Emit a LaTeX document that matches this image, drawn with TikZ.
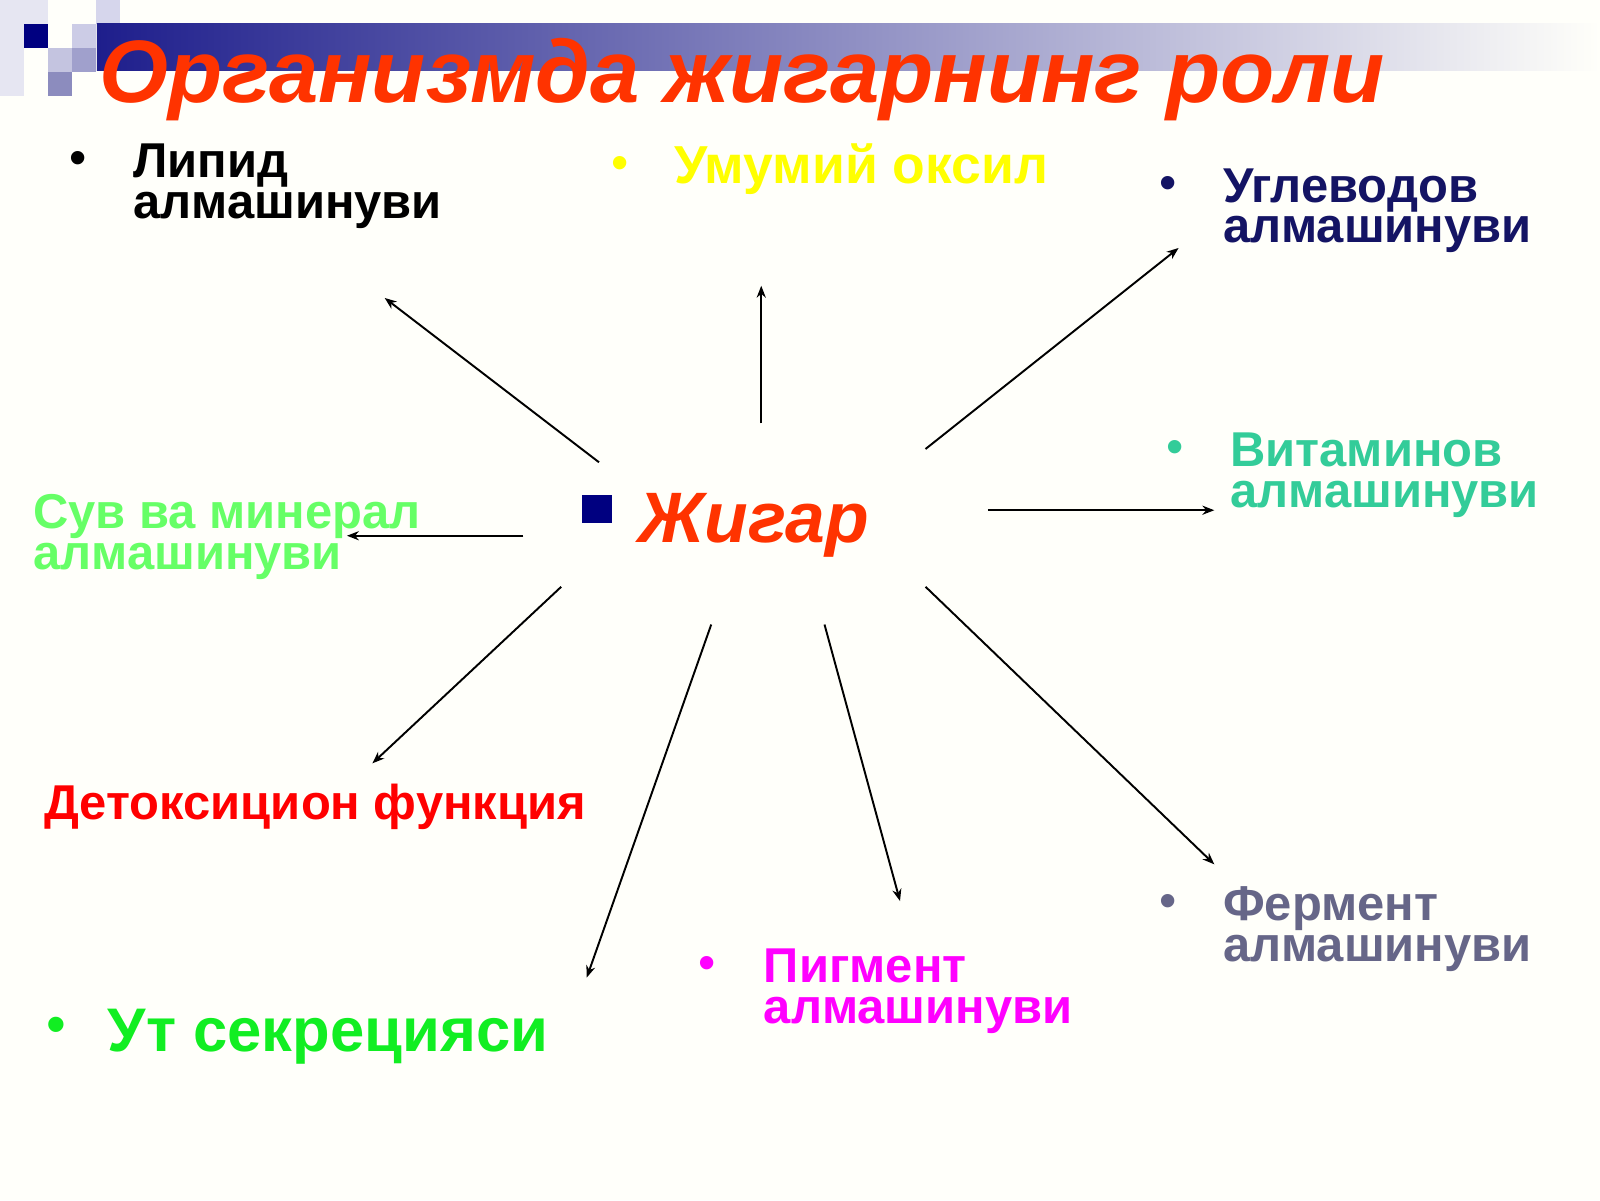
\documentclass[tikz,border=0pt]{standalone}
\usepackage{fontspec}
\setmainfont{Liberation Sans}
\usetikzlibrary{arrows.meta}
\definecolor{paper}{HTML}{FFFFFA}
\definecolor{titlered}{HTML}{FF3300}
\definecolor{barnavy}{HTML}{1E1E8C}
\definecolor{navy}{HTML}{000080}
\definecolor{uglevodcol}{HTML}{141464}
\definecolor{vitamincol}{HTML}{33CC99}
\definecolor{suvcol}{HTML}{66FF66}
\definecolor{detokscol}{HTML}{FF0000}
\definecolor{utcol}{HTML}{11EE22}
\definecolor{pigmentcol}{HTML}{FF00FF}
\definecolor{fermentcol}{HTML}{666688}
\definecolor{umumiycol}{HTML}{FFFF00}
\begin{document}
\begin{tikzpicture}[x=0.0102cm, y=-0.0102cm, >={Stealth[length=3.4pt,width=2.6pt]},
  spoke/.style={->, line width=0.55pt},
  item/.style={anchor=base west, inner sep=0pt, align=left, font=\bfseries\fontsize{13.9}{11.6}\selectfont},
  bulletdot/.style={inner sep=0pt, font=\fontsize{14}{14}\selectfont}]
\useasboundingbox (0,0) rectangle (1568,1176);
\fill[paper] (0,0) rectangle (1568,1176);
% corner squares and title bar
\fill[color={rgb,255:red,230;green,230;blue,242}] (0,0) rectangle (23.5,94);
\fill[color={rgb,255:red,230;green,230;blue,242}] (23.5,0) rectangle (47,23.5);
\fill[navy] (23.5,23.5) rectangle (47,47);
\fill[color={rgb,255:red,196;green,196;blue,224}] (47,47) rectangle (70.5,70.5);
\fill[color={rgb,255:red,140;green,140;blue,190}] (47,70.5) rectangle (70.5,94);
\fill[color={rgb,255:red,204;green,204;blue,230}] (70.5,23.5) rectangle (94,47);
\fill[color={rgb,255:red,160;green,160;blue,204}] (70.5,47) rectangle (94,70.5);
\fill[color={rgb,255:red,214;green,214;blue,236}] (94,0) rectangle (117.5,23.5);
\shade[left color=barnavy, right color=paper] (95,23) rectangle (1568,69);
\node[anchor=base west, inner sep=0pt, text=titlered, font=\bfseries\itshape\fontsize{25.2}{30}\selectfont] (title) at (97,100) {Организмда жигарнинг роли};
% centre
\node[fill=navy, minimum width=8.7pt, minimum height=8.1pt, inner sep=0pt] (jsquare) at (585,499) {};
\node[anchor=base west, inner sep=0pt, text=titlered, font=\bfseries\itshape\fontsize{20.3}{24}\selectfont] (jigar) at (625,532) {Жигар};
% labels (base = last line)
\node[item] (lipid) at (130,214) {Липид\\алмашинуви};
\node[item, text=umumiycol, font=\bfseries\fontsize{15.2}{18}\selectfont] (umumiy) at (660,180) {Умумий оксил};
\node[item, text=uglevodcol] (uglevod) at (1198,238) {Углеводов\\алмашинуви};
\node[item, text=vitamincol] (vitamin) at (1205,497) {Витаминов\\алмашинуви};
\node[item, text=suvcol] (suv) at (32,558) {Сув ва минерал\\алмашинуви};
\node[item, text=detokscol] (detoks) at (43,803) {Детоксицион функция};
\node[item, text=utcol, font=\bfseries\fontsize{17.5}{20}\selectfont] (ut) at (105,1030) {Ут секрецияси};
\node[item, text=pigmentcol] (pigment) at (748,1003) {Пигмент\\алмашинуви};
\node[item, text=fermentcol] (ferment) at (1198,942) {Фермент\\алмашинуви};
% bullets
\node[bulletdot] (b1) at (77,160) {•};
\node[bulletdot, text=umumiycol] (b2) at (608,165) {•};
\node[bulletdot, text=uglevodcol] (b3) at (1145,184) {•};
\node[bulletdot, text=vitamincol] (b4) at (1152,443) {•};
\node[bulletdot, text=utcol, font=\fontsize{16}{16}\selectfont] (b5) at (55,1010) {•};
\node[bulletdot, text=pigmentcol] (b6) at (693,949) {•};
\node[bulletdot, text=fermentcol] (b7) at (1145,888) {•};
% spokes
\coordinate (from-lipid) at (587,453);   \coordinate (to-lipid) at (377,292);
\coordinate (from-umumiy) at (746,415);  \coordinate (to-umumiy) at (746,280);
\coordinate (from-uglevod) at (907,440); \coordinate (to-uglevod) at (1155,243);
\coordinate (from-vitamin) at (968,500); \coordinate (to-vitamin) at (1190,500);
\coordinate (from-suv) at (513,525);     \coordinate (to-suv) at (340,525);
\coordinate (from-detoks) at (550,575);  \coordinate (to-detoks) at (365,748);
\coordinate (from-ut) at (697,612);      \coordinate (to-ut) at (575,958);
\coordinate (from-pigment) at (808,612); \coordinate (to-pigment) at (882,883);
\coordinate (from-ferment) at (907,575); \coordinate (to-ferment) at (1190,847);
\path[spoke]
    (from-lipid) edge (to-lipid)
    (from-umumiy) edge (to-umumiy)
    (from-uglevod) edge (to-uglevod)
    (from-vitamin) edge (to-vitamin)
    (from-suv) edge (to-suv)
    (from-detoks) edge (to-detoks)
    (from-ut) edge (to-ut)
    (from-pigment) edge (to-pigment)
    (from-ferment) edge (to-ferment)
         ;
\end{tikzpicture}
\end{document}
